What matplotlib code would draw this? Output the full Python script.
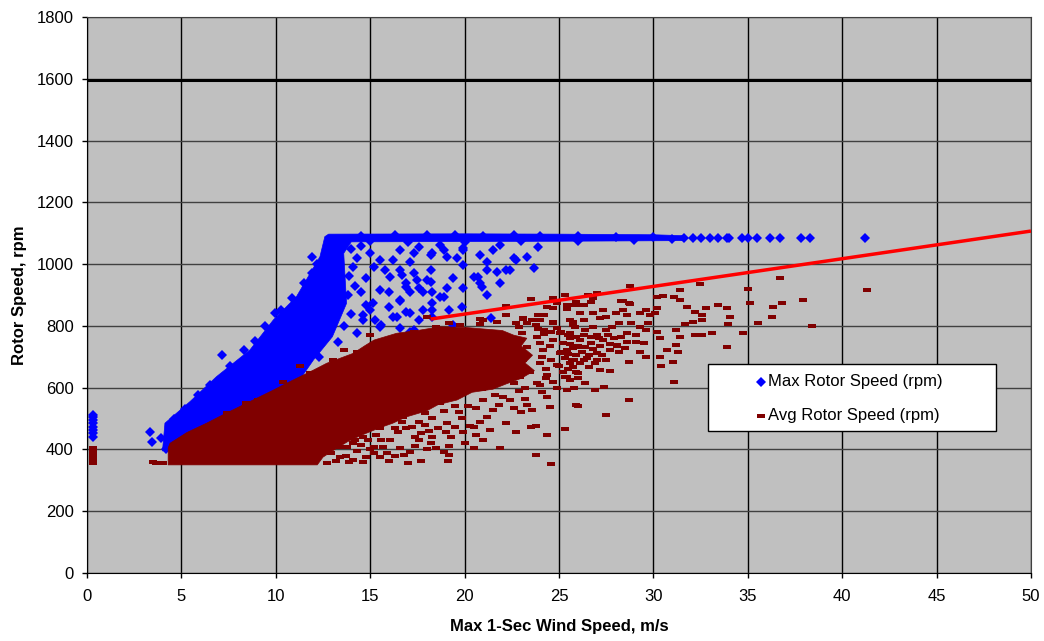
import matplotlib
matplotlib.use('Agg')
import matplotlib.pyplot as plt
from matplotlib.patches import Polygon, Rectangle

plt.rcParams['font.family'] = ['Liberation Sans', 'DejaVu Sans']

# max rotor speed: dense core of the scatter (outline)
max_core = [(4.0, 395), (4.13, 485), (5.46, 555), (6.87, 636), (8.63, 722), (9.87, 819),
            (11.1, 895), (12.34, 1024), (12.6, 1089), (12.8, 1097), (20.0, 1098), (25.0, 1097),
            (30.0, 1095), (31.6, 1092), (31.6, 1076), (25.0, 1074), (20.0, 1073), (14.0, 1072),
            (13.6, 1035), (13.75, 873), (13.0, 765), (12.0, 690), (11.2, 620), (9.0, 540),
            (6.0, 460), (4.5, 400)]

# max rotor speed: single points
max_pts = [(0.3, 440), (0.3, 452), (0.3, 463), (0.3, 474), (0.3, 485), (0.3, 496), (0.3, 505), (0.3, 512),
           (3.34, 455), (3.43, 425), (3.9, 436), (4.18, 401),
           (4.6, 500), (5.2, 530), (5.9, 575), (6.5, 610), (7.6, 670), (8.9, 750), (10.3, 850), (11.5, 940), (12.2, 1000),
           (7.13, 706), (8.3, 722), (9.43, 800), (9.96, 841), (10.84, 889), (11.9, 1024), (11.9, 970), (12.76, 1056),
           (15.5, 1013), (15.8, 981), (17.1, 1008), (18.2, 1029), (18.9, 1046), (19.6, 1019), (19.9, 1046),
           (20.8, 1029), (21.5, 1046), (21.2, 1008), (22.7, 1013), (23.3, 1024), (23.7, 987), (23.9, 1056),
           (21.9, 1062), (22.2, 981), (21.7, 975), (20.7, 959), (19.9, 997), (19.9, 922), (20.9, 927),
           (21.2, 900), (21.9, 938), (19.4, 955), (19.05, 922), (18.7, 895), (18.3, 911), (18.0, 949),
           (18.2, 981), (17.6, 922), (17.5, 949), (16.9, 938), (17.1, 911), (16.6, 879), (16.9, 846),
           (16.0, 862), (16.4, 830), (15.6, 803), (15.25, 819), (18.3, 851), (17.6, 819), (19.85, 862),
           (21.4, 824), (19.4, 803), (16.7, 965), (16.0, 911), (14.8, 868), (14.6, 835), (14.5, 911),
           (14.8, 955), (16.6, 792), (17.1, 781), (15.0, 851), (14.3, 776), (13.3, 749), (12.3, 700),
           (17.3, 787), (15.5, 797), (17.3, 1035), (18.3, 1035), (19.05, 1024), (20.5, 959), (21.2, 981),
           (20.8, 938), (22.4, 981), (22.6, 1019), (16.6, 981), (16.2, 1013), (17.3, 970), (18.2, 943),
           (16.9, 927), (16.6, 884), (17.8, 911), (18.3, 873), (18.9, 895), (19.2, 851), (17.8, 851),
           (17.1, 841), (16.2, 830), (18.3, 830), (15.5, 916), (15.15, 873), (14.6, 819), (16.05, 959),
           (15.2, 992), (15.0, 1035), (16.6, 1046), (17.6, 1056), (18.7, 1062), (19.9, 1051),
           (14.0, 1050), (14.3, 1020), (14.1, 990), (14.5, 1060), (13.9, 960), (14.2, 930), (13.8, 900),
           (14.0, 840), (13.6, 800),
           (14.5, 1092), (16.3, 1095), (18.0, 1093), (19.5, 1094), (21.0, 1092), (22.6, 1093), (24.0, 1092),
           (26.0, 1090), (28.0, 1088), (30.0, 1087), (15.0, 1074), (17.0, 1070), (20.0, 1072), (23.0, 1074),
           (26.0, 1076), (29.0, 1078), (31.0, 1080), (31.6, 1083),
           (32.1, 1083), (32.55, 1083), (32.99, 1083), (33.4, 1083), (33.9, 1083), (34.0, 1083), (34.7, 1083),
           (35.0, 1083), (35.5, 1083), (36.2, 1083), (36.7, 1083), (37.8, 1083), (38.3, 1083), (41.2, 1083)]

# avg rotor speed: dense core
avg_core = [(4.3, 350), (4.3, 405), (4.4, 420), (5.3, 455), (6.34, 485), (7.2, 512), (8.1, 539),
            (9.0, 566), (9.87, 592), (10.6, 615), (11.3, 636), (12.0, 657), (12.7, 679), (13.4, 695),
            (14.1, 711), (14.7, 735), (15.2, 754), (16.4, 776), (17.5, 785), (18.7, 797), (20.0, 795),
            (21.0, 790), (22.0, 785), (22.6, 770), (23.3, 760), (23.0, 735), (23.6, 705), (23.2, 680),
            (23.7, 655), (23.0, 630), (22.2, 612), (21.5, 595), (20.4, 585), (19.6, 560), (18.6, 545),
            (18.0, 525), (16.9, 505), (16.2, 485), (15.5, 470), (14.5, 445), (13.8, 425), (13.0, 395),
            (12.5, 375), (12.2, 350)]

# avg rotor speed: single points
avg_pts = [(0.3, 355), (0.3, 365), (0.3, 375), (0.3, 385), (0.3, 395), (0.3, 405),
           (3.5, 360), (3.65, 357), (4.04, 355),
           (11.3, 671), (10.4, 617), (8.4, 551), (9.07, 560), (7.4, 517), (11.8, 646),
           (13.05, 690), (13.6, 722), (14.3, 716), (15.0, 770), (15.9, 754), (17.3, 781),
           (18.0, 830), (18.5, 797), (19.2, 808), (19.75, 803), (21.0, 819), (23.1, 824), (20.8, 806),
           (22.9, 797), (23.8, 803), (24.7, 808), (20.8, 821), (22.2, 835), (23.1, 822), (21.7, 814), (22.7, 808),
           (12.7, 355), (12.0, 366), (13.4, 377), (14.1, 366), (13.4, 409), (14.1, 420), (13.05, 441),
           (22.6, 533), (23.55, 528), (23.3, 544), (24.5, 538), (25.9, 544), (25.4, 592), (24.35, 569),
           (23.2, 563), (22.05, 571), (21.5, 528), (21.2, 506), (20.6, 533), (22.2, 485), (23.5, 474),
           (23.8, 476), (25.3, 465), (24.35, 447), (22.75, 455), (21.35, 463), (20.6, 447), (20.3, 476),
           (19.5, 474), (19.9, 457), (21.9, 406), (20.5, 404), (19.2, 411), (18.9, 393), (18.5, 404),
           (19.1, 364), (23.8, 382), (24.6, 353), (17.7, 364), (18.2, 420), (17.6, 431), (17.4, 441),
           (17.7, 454), (18.1, 461), (17.2, 474), (16.7, 490), (16.5, 457), (16.05, 431), (15.7, 409),
           (15.9, 388), (16.8, 382), (17.1, 393), (16.6, 404), (15.2, 390), (15.5, 377), (14.8, 377),
           (14.6, 360), (13.9, 360), (15.2, 409), (14.5, 414), (13.75, 409), (14.6, 441), (15.3, 447),
           (15.5, 468), (15.1, 485), (16.1, 506), (16.75, 506), (14.2, 431), (17.6, 490), (18.3, 501),
           (19.05, 485), (19.85, 501), (20.5, 474), (18.9, 525), (17.9, 519), (18.7, 549), (19.2, 382),
           (14.0, 450), (14.9, 430), (15.6, 430), (16.3, 470), (16.9, 470), (17.9, 480), (18.6, 470),
           (19.3, 440), (19.7, 520), (20.2, 540), (21.0, 560), (20.0, 420), (21.0, 430), (18.0, 400),
           (17.4, 410), (16.3, 380), (15.0, 400), (14.3, 395), (13.7, 380), (12.9, 390), (13.2, 362),
           (16.0, 362), (17.0, 356), (18.3, 440), (19.0, 455), (20.8, 490), (21.8, 545), (22.4, 560),
           (23.0, 520), (19.5, 540), (21.6, 575), (22.9, 590), (24.1, 585), (20.9, 595),
           (23.29, 808), (23.99, 819), (24.88, 792), (25.76, 803), (23.02, 776), (23.82, 765), (24.7, 754),
           (25.58, 760), (23.29, 733), (24.17, 722), (25.05, 711), (25.94, 733), (23.1, 690), (23.99, 679),
           (24.88, 673), (25.76, 668), (23.46, 652), (24.35, 641), (25.4, 636), (22.93, 636), (23.82, 614),
           (24.7, 619), (25.6, 777), (25.76, 727), (25.7, 690), (25.9, 652), (25.6, 625), (24.9, 598),
           (24.0, 609), (23.2, 598), (22.6, 614), (24.2, 775), (24.5, 735), (24.1, 700), (24.6, 690),
           (24.3, 660), (24.0, 745), (23.9, 790), (24.6, 780), (24.3, 630),
           (27.0, 907), (23.5, 887), (22.2, 864), (20.8, 821), (22.2, 835), (23.1, 822), (25.4, 868),
           (25.9, 878), (24.35, 860), (24.9, 873), (23.9, 835), (23.55, 819), (24.7, 814), (25.6, 819),
           (22.7, 808), (21.7, 814), (24.2, 787), (25.05, 776), (25.85, 797),
           (24.7, 891), (26.8, 889), (25.9, 876), (25.7, 868), (26.3, 868), (28.4, 880), (28.76, 872),
           (24.2, 835), (24.7, 859), (36.7, 954),
           (25.1, 780), (25.5, 770), (25.9, 765), (26.3, 772), (26.7, 765), (27.1, 760), (25.2, 745),
           (25.6, 740), (26.0, 735), (26.4, 730), (26.8, 725), (27.2, 735), (25.1, 715), (25.5, 710),
           (26.2, 715), (26.6, 705), (27.0, 712), (25.3, 695), (25.8, 690), (26.3, 688), (25.0, 670),
           (25.5, 660), (26.0, 648), (27.6, 770), (27.9, 760), (28.3, 765), (27.7, 740), (28.1, 735),
           (28.5, 728), (25.2, 650), (26.9, 680), (27.5, 690),
           (28.76, 929), (32.47, 936), (35.03, 919), (41.3, 916), (35.1, 873), (36.8, 873), (36.35, 862),
           (37.9, 884), (36.3, 828), (35.56, 808), (38.4, 800), (34.76, 776), (33.9, 733), (33.1, 778),
           (32.6, 770), (32.2, 770), (34.05, 828), (33.97, 805), (33.9, 857), (33.4, 868), (32.8, 857),
           (32.6, 835), (32.6, 819), (32.1, 814), (32.2, 846), (31.7, 806), (31.76, 862), (31.4, 884),
           (31.1, 892), (30.5, 898), (30.2, 892), (31.4, 916), (30.2, 857), (30.1, 841), (29.8, 835),
           (29.7, 808), (30.2, 781), (30.35, 760), (31.2, 787), (31.4, 765), (31.2, 738), (30.7, 722),
           (31.3, 716), (31.05, 684), (30.35, 700), (30.4, 670), (31.1, 619), (29.6, 700), (29.5, 744),
           (29.3, 716), (28.7, 684), (28.7, 560), (27.5, 512), (25.3, 466), (26.0, 542), (27.4, 603),
           (26.9, 592), (25.8, 598), (26.4, 614), (25.3, 634), (26.0, 630), (27.7, 655), (27.2, 657),
           (26.6, 666), (29.6, 851), (29.3, 841), (28.4, 851), (28.7, 873), (28.3, 882), (27.35, 851),
           (27.2, 824), (27.5, 830), (28.0, 841), (28.6, 835), (28.2, 808), (28.8, 808), (29.3, 797),
           (27.8, 797), (27.5, 787), (26.8, 797), (27.0, 770), (26.4, 787), (25.76, 814), (26.3, 819),
           (26.1, 841), (26.8, 843), (25.4, 854), (25.9, 868), (26.7, 878), (26.55, 900), (25.3, 900),
           (28.05, 738), (28.6, 749), (29.1, 749), (27.7, 722), (28.2, 716), (27.35, 754), (26.7, 744),
           (26.1, 754), (25.6, 760), (25.4, 722), (25.9, 706), (26.5, 695), (27.0, 690), (26.1, 679),
           (25.6, 679), (27.3, 706), (28.6, 776), (29.1, 770), (29.6, 787)]

# upper trend line and the 1600 rpm limit line
trend_x = [18.2, 50]
trend_y = [822, 1107]
limit_x = [0, 50]
limit_y = [1597, 1597]

blue = '#0000FF'
brown = '#800000'
dash = [(-1, -0.375), (1, -0.375), (1, 0.375), (-1, 0.375), (-1, -0.375)]

fig = plt.figure(figsize=(10.44, 6.41), dpi=100)
ax = fig.add_axes([0.0833, 0.1061, 0.9042, 0.8674])
ax.set_facecolor('#C0C0C0')

ax.add_patch(Polygon(max_core, closed=True, facecolor=blue, edgecolor=blue, lw=0.5, zorder=2))
ax.plot([p[0] for p in max_pts], [p[1] for p in max_pts], 'D', color=blue, ms=4.6, mew=0, zorder=2)
ax.add_patch(Polygon(avg_core, closed=True, facecolor=brown, edgecolor=brown, lw=0.5, zorder=3))
ax.plot([p[0] for p in avg_pts], [p[1] for p in avg_pts], linestyle='none', marker=dash,
        color=brown, ms=5.8, mew=0, zorder=3)
ax.plot(trend_x, trend_y, color='#FF0000', lw=2.5, zorder=4, solid_capstyle='butt')
ax.plot(limit_x, limit_y, color='black', lw=2.2, zorder=4, solid_capstyle='butt')

ax.set_xlim(0, 50)
ax.set_ylim(0, 1800)
ax.set_xticks(range(0, 51, 5))
ax.set_yticks(range(0, 1801, 200))
ax.set_axisbelow(True)
ax.xaxis.grid(True, color='black', lw=1)
ax.yaxis.grid(True, color='#404040', lw=1)
ax.tick_params(axis='both', labelsize=12, length=3.6, width=1, direction='out')
ax.tick_params(axis='x', pad=8)
ax.tick_params(axis='y', pad=6)
for s in ['left', 'bottom']:
    ax.spines[s].set_color('black')
for s in ['top', 'right']:
    ax.spines[s].set_color('#404040')

ax.set_xlabel('Max 1-Sec Wind Speed, m/s', fontsize=12, fontweight='bold')
ax.set_ylabel('Rotor Speed, rpm', fontsize=12, fontweight='bold')
ax.xaxis.set_label_coords(0.5, -0.083)
ax.yaxis.set_label_coords(-0.063, 0.5)

# legend box, drawn by hand to get the Excel-like spacing
ax.add_patch(Rectangle((0.6578, 0.2559), 0.3048, 0.12, transform=ax.transAxes,
                       facecolor='white', edgecolor='black', lw=1, zorder=5))
ax.plot([0.714], [0.344], 'D', color=blue, ms=4.6, mew=0, transform=ax.transAxes, zorder=6)
ax.plot([0.714], [0.2824], linestyle='none', marker=dash, color=brown, ms=5.8, mew=0,
        transform=ax.transAxes, zorder=6)
ax.text(0.7214, 0.344, 'Max Rotor Speed (rpm)', transform=ax.transAxes, fontsize=12,
        va='center', ha='left', zorder=6)
ax.text(0.7214, 0.2824, 'Avg Rotor Speed (rpm)', transform=ax.transAxes, fontsize=12,
        va='center', ha='left', zorder=6)

plt.savefig('out.png', dpi=100)
